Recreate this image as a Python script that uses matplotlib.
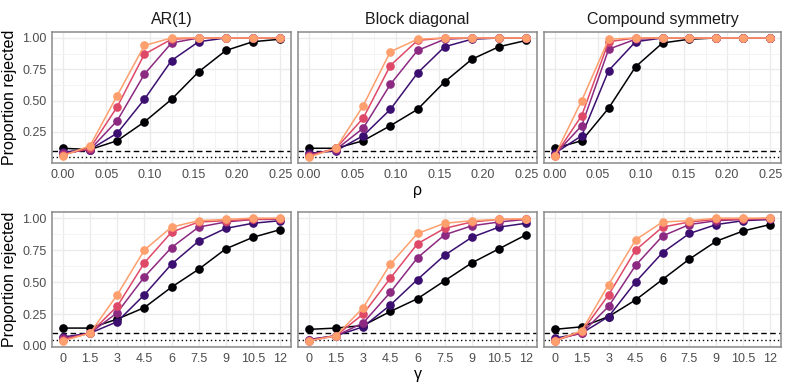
import matplotlib
matplotlib.use("Agg")
import matplotlib.pyplot as plt
import numpy as np

plt.rcParams['font.family'] = ['Liberation Sans', 'DejaVu Sans']

rho = [0, 0.03125, 0.0625, 0.09375, 0.125, 0.15625, 0.1875, 0.21875, 0.25]
gamma = [0, 1.5, 3, 4.5, 6, 7.5, 9, 10.5, 12]
panels = ["AR(1)", "Block diagonal", "Compound symmetry"]
colors = ["#000004", "#3B0F70", "#8C2981", "#DE4968", "#FE9F6D"]

# rho row: [panel][series]
ar1_rho = [
    [0.12, 0.11, 0.18, 0.33, 0.51, 0.73, 0.90, 0.97, 0.99],
    [0.09, 0.11, 0.24, 0.51, 0.82, 0.97, 1.00, 1.00, 1.00],
    [0.08, 0.11, 0.34, 0.71, 0.96, 1.00, 1.00, 1.00, 1.00],
    [0.07, 0.12, 0.45, 0.87, 0.99, 1.00, 1.00, 1.00, 1.00],
    [0.06, 0.14, 0.54, 0.94, 1.00, 1.00, 1.00, 1.00, 1.00],
]
block_rho = [
    [0.12, 0.12, 0.18, 0.30, 0.43, 0.65, 0.83, 0.93, 0.98],
    [0.08, 0.10, 0.22, 0.43, 0.72, 0.93, 0.99, 1.00, 1.00],
    [0.07, 0.11, 0.28, 0.63, 0.90, 0.99, 1.00, 1.00, 1.00],
    [0.06, 0.12, 0.36, 0.78, 0.98, 1.00, 1.00, 1.00, 1.00],
    [0.05, 0.12, 0.46, 0.89, 0.99, 1.00, 1.00, 1.00, 1.00],
]
cs_rho = [
    [0.12, 0.18, 0.44, 0.77, 0.96, 0.99, 1.00, 1.00, 1.00],
    [0.08, 0.22, 0.74, 0.97, 1.00, 1.00, 1.00, 1.00, 1.00],
    [0.07, 0.30, 0.91, 0.99, 1.00, 1.00, 1.00, 1.00, 1.00],
    [0.06, 0.38, 0.97, 1.00, 1.00, 1.00, 1.00, 1.00, 1.00],
    [0.06, 0.50, 0.99, 1.00, 1.00, 1.00, 1.00, 1.00, 1.00],
]
ar1_gamma = [
    [0.14, 0.14, 0.21, 0.30, 0.46, 0.60, 0.76, 0.85, 0.91],
    [0.07, 0.10, 0.19, 0.40, 0.64, 0.82, 0.92, 0.96, 0.98],
    [0.06, 0.10, 0.26, 0.54, 0.77, 0.93, 0.97, 0.99, 0.99],
    [0.05, 0.10, 0.31, 0.65, 0.89, 0.97, 0.98, 0.99, 0.995],
    [0.04, 0.10, 0.40, 0.75, 0.93, 0.98, 0.99, 1.00, 1.00],
]
block_gamma = [
    [0.13, 0.14, 0.16, 0.27, 0.37, 0.51, 0.65, 0.76, 0.87],
    [0.05, 0.08, 0.15, 0.32, 0.52, 0.71, 0.85, 0.93, 0.96],
    [0.05, 0.08, 0.18, 0.42, 0.69, 0.87, 0.94, 0.97, 0.99],
    [0.04, 0.08, 0.25, 0.53, 0.80, 0.92, 0.97, 0.99, 0.99],
    [0.04, 0.08, 0.30, 0.64, 0.88, 0.96, 0.98, 0.99, 0.995],
]
cs_gamma = [
    [0.13, 0.15, 0.23, 0.36, 0.52, 0.68, 0.82, 0.90, 0.95],
    [0.06, 0.10, 0.23, 0.50, 0.73, 0.88, 0.95, 0.98, 0.99],
    [0.05, 0.10, 0.31, 0.63, 0.86, 0.95, 0.98, 0.99, 0.99],
    [0.04, 0.11, 0.40, 0.75, 0.93, 0.97, 0.99, 0.99, 1.00],
    [0.04, 0.12, 0.48, 0.83, 0.97, 0.98, 1.00, 1.00, 1.00],
]
rho_data = [ar1_rho, block_rho, cs_rho]
gamma_data = [ar1_gamma, block_gamma, cs_gamma]
rho_ticks = [0.00, 0.05, 0.10, 0.15, 0.20, 0.25]
rho_labels = ["0.00", "0.05", "0.10", "0.15", "0.20", "0.25"]
gamma_labels = ["0", "1.5", "3", "4.5", "6", "7.5", "9", "10.5", "12"]
y_ticks_top = [0.25, 0.50, 0.75, 1.00]
y_labels_top = ["0.25", "0.50", "0.75", "1.00"]
y_ticks_bot = [0.00, 0.25, 0.50, 0.75, 1.00]
y_labels_bot = ["0.00", "0.25", "0.50", "0.75", "1.00"]

W, H = 789, 389
fig = plt.figure(figsize=(W / 100, H / 100), dpi=100)

xs_px = [(52, 291), (298, 537), (544, 781)]
rows_px = [(32, 163), (212, 347)]

def ax_at(x0, x1, y0, y1):
    return fig.add_axes([x0 / W, 1 - y1 / H, (x1 - x0) / W, (y1 - y0) / H])

tick_col = "#4d4d4d"
for r in range(2):
    for c in range(3):
        ax = ax_at(xs_px[c][0], xs_px[c][1], rows_px[r][0], rows_px[r][1])
        ax.set_facecolor("white")
        if r == 0:
            x = rho
            data = rho_data[c]
            ax.set_xlim(-0.0125, 0.2625)
            ax.set_ylim(0.0025, 1.0475)
            ax.set_xticks(rho_ticks)
            ax.set_xticklabels(rho_labels)
            ax.set_xticks(np.arange(0.025, 0.25, 0.05), minor=True)
            yt, yl = y_ticks_top, y_labels_top
            ax.set_yticks(yt)
            ax.set_yticks([0.125, 0.375, 0.625, 0.875], minor=True)
        else:
            x = gamma
            data = gamma_data[c]
            ax.set_xlim(-0.6, 12.6)
            ax.set_ylim(-0.008, 1.048)
            ax.set_xticks(gamma)
            ax.set_xticklabels(gamma_labels)
            yt, yl = y_ticks_bot, y_labels_bot
            ax.set_yticks(yt)
            ax.set_yticks([0.125, 0.375, 0.625, 0.875], minor=True)
        if c == 0:
            ax.set_yticklabels(yl)
        else:
            ax.set_yticklabels([])
        ax.grid(which="major", color="#ebebeb", lw=1.0)
        ax.grid(which="minor", color="#f3f3f3", lw=0.6)
        ax.set_axisbelow(True)
        ax.tick_params(which="both", length=0, labelsize=9, labelcolor=tick_col, pad=4)
        for s in ax.spines.values():
            s.set_color("#8a8a8a")
            s.set_linewidth(1.1)
        ax.axhline(0.1, color="black", ls=(0, (4, 2.5)), lw=1.0, zorder=1.5)
        ax.axhline(0.05, color="black", ls=(0, (1, 2)), lw=1.0, zorder=1.5)
        for k in range(5):
            ax.plot(x, data[k], color=colors[k], lw=1.1, marker="o", ms=5.2,
                    zorder=3 + k)
        if r == 0:
            ax.set_title(panels[c], fontsize=11.5, color="#1a1a1a", pad=6)
            if c == 1:
                ax.set_xlabel("ρ", fontsize=11.5, labelpad=2)
        else:
            if c == 1:
                ax.set_xlabel("γ", fontsize=11.5, labelpad=2)
        if c == 0:
            ax.set_ylabel("Proportion rejected", fontsize=11.5, labelpad=4)

fig.savefig("out.png", dpi=100)
